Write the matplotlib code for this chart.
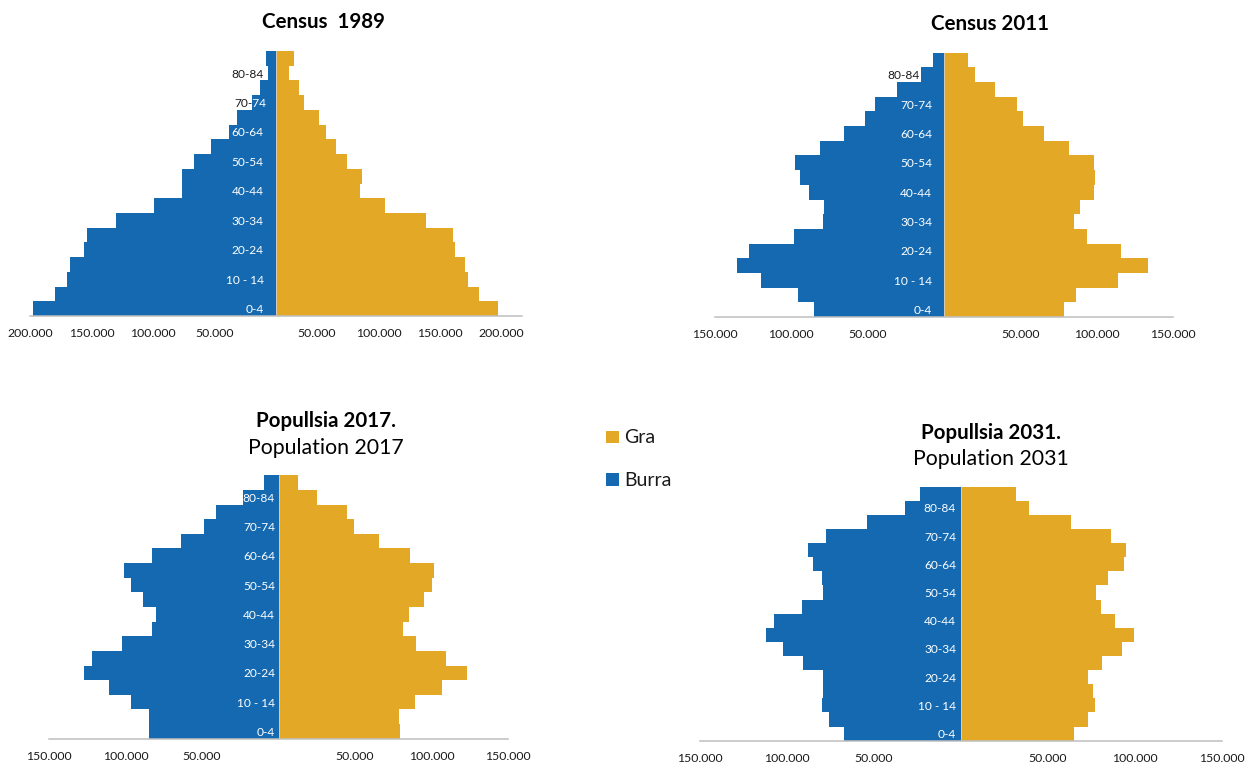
import matplotlib
matplotlib.use("Agg")
import matplotlib.pyplot as plt
from matplotlib.patches import Rectangle
from matplotlib.transforms import Bbox, TransformedBbox, ScaledTranslation

plt.rcParams['font.family'] = ['Lato', 'DejaVu Sans']

# ---------------------------------------------------------------- data
age_groups = ["0-4", "5-9", "10 - 14", "15-19", "20-24", "25-29", "30-34",
              "35-39", "40-44", "45-49", "50-54", "55-59", "60-64", "65-69",
              "70-74", "75-79", "80-84", "85+"]

series_names = ["Gra", "Burra"]

burra_1989 = [197900, 179800, 169900, 167400, 156200, 153700, 130100, 99100,
              76400, 76400, 66500, 53100, 38500, 31400, 19300, 13000, 6200, 7800]
gra_1989 = [180400, 165000, 156500, 153500, 145800, 143600, 121700, 88800,
            68500, 70100, 57800, 49000, 41000, 34700, 22900, 18800, 10300, 15000]

burra_2011 = [85400, 95400, 119900, 135400, 127900, 98500, 79200, 78500,
              88700, 94500, 97600, 81200, 65500, 51800, 44900, 30800, 14800, 7300]
gra_2011 = [78300, 86700, 113700, 133600, 116200, 93600, 85200, 88900,
            98000, 98900, 98200, 81900, 65500, 51800, 47600, 33200, 20100, 15500]

burra_2017 = [84800, 84800, 96500, 110700, 127400, 122000, 102200, 82600,
              80200, 88700, 96700, 100700, 83000, 63500, 48500, 40900, 23000, 9600]
gra_2017 = [79300, 78900, 89300, 106700, 123000, 109600, 89600, 81500,
            85200, 95200, 100200, 101700, 85700, 65700, 49100, 44800, 25000, 12800]

burra_2031 = [67400, 75800, 79900, 79500, 79500, 91000, 102100, 112300,
              107600, 91600, 79300, 79700, 85200, 87700, 77600, 54000, 32400, 23800]
gra_2031 = [64700, 72900, 76800, 75600, 72900, 80900, 92400, 99600,
            88700, 80700, 77600, 84600, 93600, 95100, 86400, 63000, 39200, 31600]

ticks_200k = [-200000, -150000, -100000, -50000, 50000, 100000, 150000, 200000]
ticks_150k = [-150000, -100000, -50000, 50000, 100000, 150000]

# ---------------------------------------------------------------- style
BLUE = "#1469B1"
GOLD = "#E3A826"
AXIS_GREY = "#BFBFBF"
TEXT = "#1a1a1a"
W, H = 1246, 764

fig = plt.figure(figsize=(W / 100, H / 100), dpi=100)


def thousands(v):
    return f"{abs(int(v)):,}".replace(",", ".")


def px_axes(x0, y0, x1, y1):
    return fig.add_axes([x0 / W, 1 - y1 / H, (x1 - x0) / W, (y1 - y0) / H])


panels = [
    dict(title=["Census  1989"], burra=burra_1989, gra=gra_1989, ticks=ticks_200k,
         box=(30, 51, 522, 316), label_gap=12.5, label_gaps={"70-74": 9.5},
         title_x=323, title_y=[28.3], right_shift=-20.6),
    dict(title=["Census 2011"], burra=burra_2011, gra=gra_2011, ticks=ticks_150k,
         box=(715, 52.7, 1173, 317), label_gap=12, label_gaps={"80-84": 24.7},
         title_x=990, title_y=[30], right_shift=0),
    dict(title=["Popullsia 2017.", "Population 2017"], burra=burra_2017, gra=gra_2017,
         ticks=ticks_150k, box=(49, 475.3, 508, 738.7), label_gap=3.5, label_gaps={},
         title_x=326, title_y=[427.3, 453.5], right_shift=0),
    dict(title=["Popullsia 2031.", "Population 2031"], burra=burra_2031, gra=gra_2031,
         ticks=ticks_150k, box=(700, 486.7, 1222, 740.7), label_gap=5, label_gaps={},
         title_x=991, title_y=[439, 465], right_shift=0),
]

for p in panels:
    ax = px_axes(*p["box"])
    lim = max(abs(t) for t in p["ticks"])
    ypos = list(range(len(age_groups)))
    ax.barh(ypos, [-v for v in p["burra"]], height=1.0, color=BLUE, linewidth=0, zorder=2)
    ax.barh(ypos, p["gra"], height=1.0, color=GOLD, linewidth=0, zorder=2)
    ax.axvline(0, color="#d0d0d0", lw=0.6, zorder=3)
    ax.set_xlim(-lim, lim)
    ax.set_ylim(-0.5, len(age_groups) - 0.5)

    for side in ("top", "left", "right"):
        ax.spines[side].set_visible(False)
    ax.spines["bottom"].set_color(AXIS_GREY)
    ax.spines["bottom"].set_linewidth(1.1)
    ax.spines["bottom"].set_zorder(4)

    ax.set_yticks([])
    ax.set_xticks(p["ticks"])
    ax.set_xticklabels([thousands(t) for t in p["ticks"]])
    ax.tick_params(axis="x", length=0, pad=8.5, labelsize=8.8, labelcolor=TEXT)
    if p["right_shift"]:
        shift = ScaledTranslation(p["right_shift"] / 100, 0, fig.dpi_scale_trans)
        for t, lab in zip(p["ticks"], ax.get_xticklabels()):
            if t > 0:
                lab.set_transform(lab.get_transform() + shift)

    # age labels: dark where they sit on white, white where they sit on the bar
    for i in range(0, len(age_groups), 2):
        name = age_groups[i]
        gap = p["label_gaps"].get(name, p["label_gap"])
        tr = ax.transData + ScaledTranslation(-gap / 100, 0, fig.dpi_scale_trans)
        edge = -p["burra"][i]
        for colour, (xa, xb) in ((TEXT, (-lim * 1.2, edge)), ("white", (edge, 0))):
            t = ax.text(0, i, name, transform=tr, ha="right", va="center_baseline",
                        fontsize=8.6, color=colour, clip_on=True, zorder=5)
            t.set_clip_path(None)
            t.set_clip_box(TransformedBbox(Bbox([[xa, i - 0.5], [xb, i + 0.5]]),
                                           ax.transData))

    for k, (line, y) in enumerate(zip(p["title"], p["title_y"])):
        fig.text(p["title_x"] / W, 1 - y / H, line, ha="center", va="baseline",
                 fontsize=14.8 if k == 0 else 15.3,
                 weight="bold" if k == 0 else "normal", color="black")

# legend
for name, colour, y_base in zip(series_names, [GOLD, BLUE], [443.3, 485.5]):
    fig.patches.append(Rectangle((606 / W, 1 - y_base / H), 13 / W, 12.6 / H,
                                 transform=fig.transFigure, color=colour, lw=0))
    fig.text(624.5 / W, 1 - y_base / H, name, ha="left", va="baseline",
             fontsize=14, color=TEXT)

fig.savefig("out.png", dpi=100)
